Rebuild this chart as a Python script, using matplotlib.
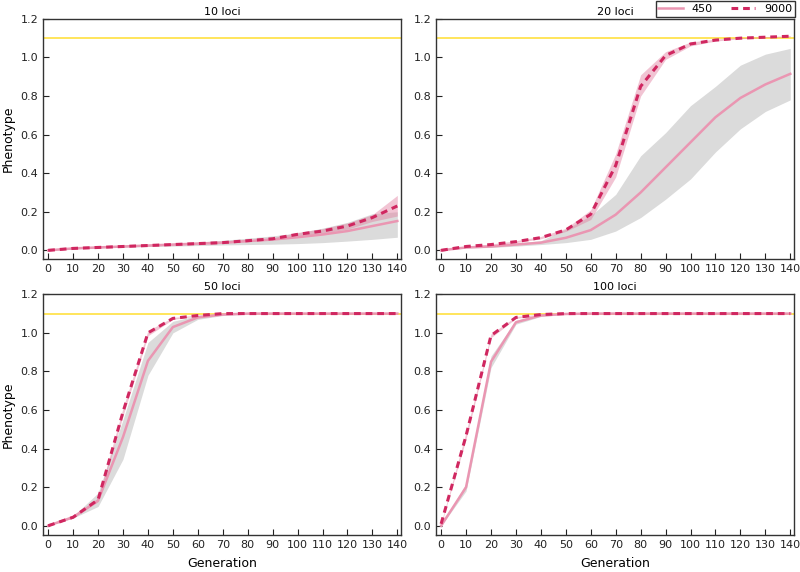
import matplotlib
matplotlib.use("Agg")
import matplotlib.pyplot as plt

generations = [0, 10, 20, 30, 40, 50, 60, 70, 80, 90, 100, 110, 120, 130, 140]
panel_titles = ["10 loci", "20 loci", "50 loci", "100 loci"]
optimum = 1.1

# mean phenotype, population size 450
mean_450 = [
    [0.0, 0.01, 0.015, 0.02, 0.025, 0.03, 0.035, 0.04, 0.048, 0.056, 0.068, 0.082, 0.10, 0.126, 0.152],
    [0.0, 0.015, 0.02, 0.03, 0.04, 0.065, 0.105, 0.185, 0.30, 0.43, 0.56, 0.69, 0.79, 0.86, 0.915],
    [0.0, 0.045, 0.13, 0.46, 0.855, 1.03, 1.08, 1.095, 1.1, 1.1, 1.1, 1.1, 1.1, 1.1, 1.1],
    [0.0, 0.2, 0.85, 1.055, 1.09, 1.098, 1.1, 1.1, 1.1, 1.1, 1.1, 1.1, 1.1, 1.1, 1.1],
]
low_450 = [
    [0.0, 0.008, 0.012, 0.016, 0.02, 0.022, 0.025, 0.028, 0.03, 0.032, 0.035, 0.04, 0.048, 0.057, 0.068],
    [0.0, 0.012, 0.015, 0.022, 0.03, 0.04, 0.057, 0.10, 0.17, 0.265, 0.37, 0.51, 0.63, 0.72, 0.78],
    [0.0, 0.04, 0.10, 0.345, 0.78, 1.0, 1.07, 1.09, 1.097, 1.1, 1.1, 1.1, 1.1, 1.1, 1.1],
    [0.0, 0.18, 0.82, 1.045, 1.085, 1.096, 1.099, 1.1, 1.1, 1.1, 1.1, 1.1, 1.1, 1.1, 1.1],
]
high_450 = [
    [0.0, 0.012, 0.018, 0.024, 0.03, 0.036, 0.043, 0.052, 0.063, 0.075, 0.09, 0.115, 0.145, 0.19, 0.2],
    [0.0, 0.018, 0.025, 0.038, 0.05, 0.11, 0.18, 0.29, 0.49, 0.61, 0.75, 0.85, 0.96, 1.017, 1.047],
    [0.0, 0.05, 0.17, 0.55, 0.95, 1.06, 1.09, 1.1, 1.102, 1.102, 1.102, 1.102, 1.102, 1.102, 1.102],
    [0.0, 0.22, 0.88, 1.065, 1.095, 1.1, 1.101, 1.101, 1.101, 1.101, 1.101, 1.101, 1.101, 1.101, 1.101],
]

# mean phenotype, population size 9000
mean_9000 = [
    [0.0, 0.01, 0.015, 0.02, 0.025, 0.03, 0.035, 0.04, 0.05, 0.06, 0.083, 0.10, 0.126, 0.17, 0.23],
    [0.0, 0.02, 0.03, 0.045, 0.066, 0.106, 0.187, 0.44, 0.85, 1.01, 1.07, 1.09, 1.10, 1.105, 1.11],
    [0.0, 0.044, 0.135, 0.59, 1.0, 1.075, 1.09, 1.1, 1.1, 1.1, 1.1, 1.1, 1.1, 1.1, 1.1],
    [0.01, 0.467, 0.986, 1.08, 1.095, 1.1, 1.1, 1.1, 1.1, 1.1, 1.1, 1.1, 1.1, 1.1, 1.1],
]
low_9000 = [
    [0.0, 0.009, 0.013, 0.018, 0.022, 0.027, 0.031, 0.036, 0.045, 0.054, 0.073, 0.088, 0.11, 0.15, 0.178],
    [0.0, 0.018, 0.027, 0.04, 0.06, 0.098, 0.16, 0.38, 0.80, 0.99, 1.06, 1.085, 1.097, 1.102, 1.107],
    [0.0, 0.04, 0.125, 0.57, 0.985, 1.07, 1.088, 1.098, 1.099, 1.099, 1.099, 1.099, 1.099, 1.099, 1.099],
    [0.005, 0.45, 0.975, 1.075, 1.093, 1.099, 1.099, 1.099, 1.099, 1.099, 1.099, 1.099, 1.099, 1.099, 1.099],
]
high_9000 = [
    [0.0, 0.011, 0.017, 0.022, 0.028, 0.033, 0.039, 0.045, 0.055, 0.066, 0.093, 0.112, 0.142, 0.185, 0.285],
    [0.0, 0.022, 0.033, 0.05, 0.072, 0.114, 0.21, 0.50, 0.91, 1.03, 1.08, 1.095, 1.103, 1.108, 1.113],
    [0.0, 0.048, 0.145, 0.61, 1.012, 1.08, 1.092, 1.101, 1.101, 1.101, 1.101, 1.101, 1.101, 1.101, 1.101],
    [0.015, 0.485, 0.995, 1.085, 1.097, 1.101, 1.101, 1.101, 1.101, 1.101, 1.101, 1.101, 1.101, 1.101, 1.101],
]

color_450 = "#EA96B2"
color_9000 = "#D02760"

fig, axes = plt.subplots(2, 2, figsize=(8, 5.72), dpi=100)
fig.subplots_adjust(left=0.054, right=0.9925, top=0.967, bottom=0.065,
                    wspace=0.098, hspace=0.145)

for i, ax in enumerate(axes.flat):
    ax.axhline(optimum, color="#FFD700", lw=1.2, alpha=0.75, zorder=1)
    ax.fill_between(generations, low_450[i], high_450[i], color="#D9D9D9",
                    lw=0, alpha=0.95, zorder=2)
    ax.fill_between(generations, low_9000[i], high_9000[i], color="#E27C9F",
                    lw=0, alpha=0.45, zorder=3)
    ax.plot(generations, mean_450[i], color=color_450, lw=1.8,
            label="450", zorder=4)
    ax.plot(generations, mean_9000[i], color=color_9000, lw=2.2,
            ls=(0, (2.2, 1.6)), label="9000", zorder=5)

    ax.set_title(panel_titles[i], fontsize=8, pad=3)
    ax.set_xlim(-2, 141.5)
    ax.set_ylim(-0.047, 1.2)
    ax.set_xticks(generations)
    ax.set_yticks([0.0, 0.2, 0.4, 0.6, 0.8, 1.0, 1.2])
    ax.tick_params(direction="in", length=4, labelsize=8, colors="#222222",
                   top=False, right=False)
    for spine in ax.spines.values():
        spine.set_color("#333333")
        spine.set_linewidth(1.0)
    if i % 2 == 0:
        ax.set_ylabel("Phenotype", fontsize=9)
    if i >= 2:
        ax.set_xlabel("Generation", fontsize=9, labelpad=5)

handles, labels = axes[0, 1].get_legend_handles_labels()
fig.legend(handles, labels, loc="upper right", bbox_to_anchor=(0.995, 1.0),
           ncol=2, fontsize=8, fancybox=False, edgecolor="#333333",
           framealpha=1, handlelength=2.2, handletextpad=0.8,
           columnspacing=1.6, borderpad=0.25, borderaxespad=0.1)

plt.savefig("out.png", dpi=100)
